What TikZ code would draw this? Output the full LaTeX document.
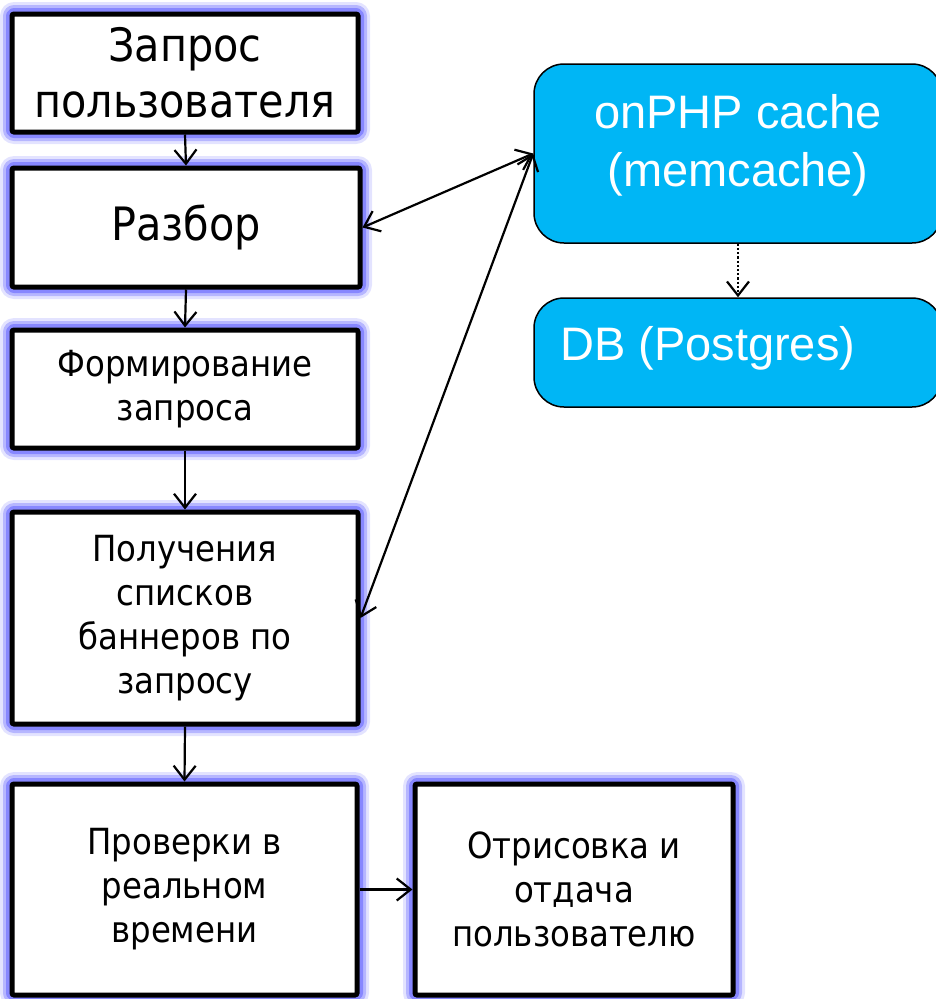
\documentclass[tikz,border=0pt]{standalone}
\usepackage{fontspec}
\setmainfont{DejaVu Sans}[FakeStretch=0.9]
\newfontfamily\cachefont{Liberation Sans}
\definecolor{glow-blue}{RGB}{115,115,255}
\definecolor{cache-cyan}{RGB}{0,182,245}
\usetikzlibrary{arrows.meta,positioning}
\begin{document}
\begin{tikzpicture}[x=1pt,y=-1pt,
        flowbox/.style={draw=black,line width=5pt,fill=white,rounded corners=2pt,
            align=center,inner sep=0pt,
            preaction={draw=glow-blue,line width=24pt,opacity=0.2,line join=round},
            preaction={draw=glow-blue,line width=18pt,opacity=0.4,line join=round},
            preaction={draw=glow-blue,line width=12pt,opacity=0.7,line join=round}},
        bigtext/.style={font=\fontsize{46}{56}\selectfont},
        smalltext/.style={font=\fontsize{36}{44}\selectfont},
        cachebox/.style={draw=black,line width=1.5pt,fill=cache-cyan,rounded corners=30pt},
        cachetext/.style={text=white,align=center,inner sep=0pt,
            font=\cachefont\fontsize{47}{58}\selectfont},
        link/.style={line width=2.2pt,-{Straight Barb[length=14pt,width=22pt]}},
        twoway/.style={line width=2.2pt,{Straight Barb[length=14pt,width=22pt]}-{Straight Barb[length=14pt,width=22pt]}}
        ]
    \useasboundingbox (0,0) rectangle (936,999);
    % left column
    \node[flowbox,bigtext,minimum width=346,minimum height=118] (request) at (185,73) {Запрос\\пользователя};
    \node[flowbox,bigtext,minimum width=348,minimum height=119] (parse) at (186,227.5) {Разбор};
    \node[flowbox,smalltext,minimum width=346,minimum height=118] (build) at (185,389) {Формирование\\запроса};
    \node[flowbox,smalltext,minimum width=346,minimum height=212] (fetch) at (185,618) {Получения\\списков\\баннеров по\\запросу};
    \node[flowbox,smalltext,minimum width=345,minimum height=211] (check) at (184.5,889.5) {Проверки в\\реальном\\времени};
    \node[flowbox,smalltext,minimum width=318,minimum height=211] (render) at (574,889.5) {Отрисовка и\\отдача\\пользователю};
    % cache and db
    \node[cachebox,minimum width=408,minimum height=179] (cache) at (738,153.5) {};
    \node[cachetext,anchor=north] (cachelbl) at (738,94) {onPHP cache\\(memcache)};
    \node[cachebox,minimum width=408,minimum height=109] (db) at (738,352.5) {};
    \node[cachetext,anchor=base west] (dblbl) at (560,360) {DB (Postgres)};
    % arrows
    \draw[link] (request.south) -- (parse.north);
    \draw[link] (parse.south) -- (build.north);
    \draw[link] (build.south) -- (fetch.north);
    \draw[link] (fetch.south) -- (check.north);
    \draw[link] (check.east) -- (render.west);
    \draw[twoway] (parse.east) -- (cache.west);
    \draw[twoway] (fetch.east) -- (cache.west);
    \draw[link,dotted] (cache.south) -- (db.north);
\end{tikzpicture}
\end{document}
